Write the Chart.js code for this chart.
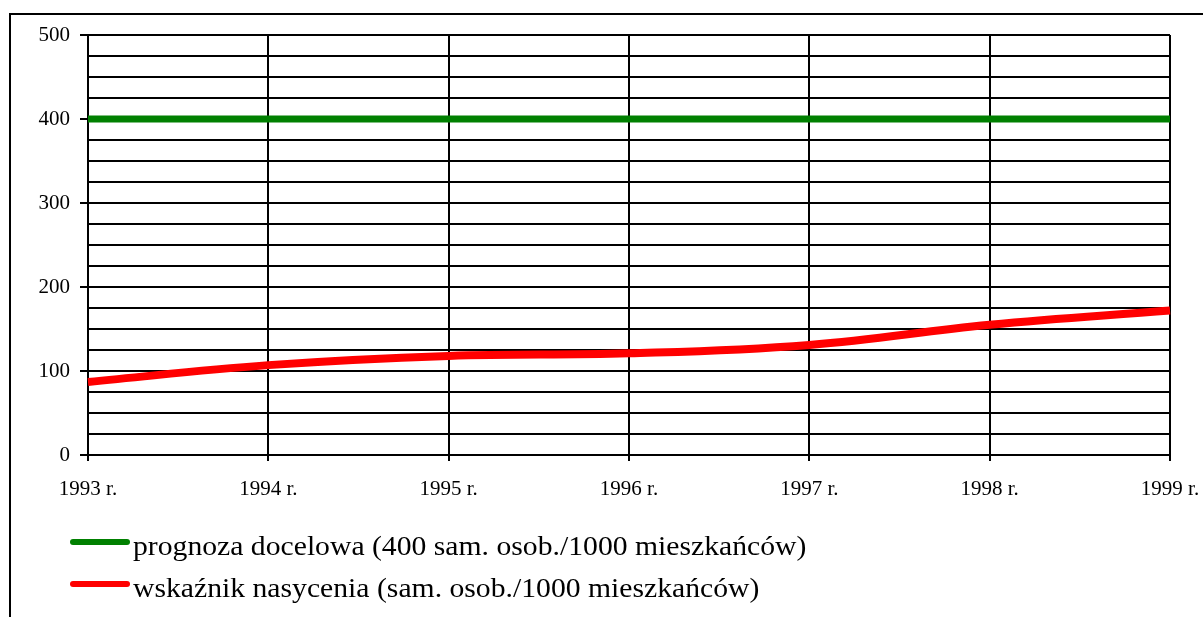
<!DOCTYPE html>
<html>
<head>
<meta charset="utf-8">
<script src="https://cdn.jsdelivr.net/npm/chart.js@4.4.1/dist/chart.umd.min.js"></script>
<style>
    html, body { margin: 0; padding: 0; background: #fff; width: 1203px; height: 617px; overflow: hidden; }
    #frame { position: absolute; left: 9px; top: 13px; width: 1300px; height: 700px;
             border-left: 2px solid #000; border-top: 2px solid #000; }
    #wrap { position: absolute; left: 0; top: 0; width: 1203px; height: 617px; }
    .legend { position: absolute; left: 70px; font-family: "Liberation Serif", "Times New Roman", serif;
              font-size: 28px; line-height: 28px; color: #000; white-space: nowrap; }
    .legend .sw { position: absolute; left: 0; width: 60px; height: 6px; border-radius: 3px; }
    .legend .tx { position: absolute; left: 63px; transform: scaleX(1.06); transform-origin: left center; }
</style>
</head>
<body>
<div id="frame"></div>
<div id="wrap"><canvas id="chart" width="1203" height="617"></canvas></div>
<div class="legend" style="top:542px"><div class="sw" style="background:#008000;top:-3px"></div><div class="tx" id="lg0" style="top:-10px"></div></div>
<div class="legend" style="top:584px"><div class="sw" style="background:#ff0000;top:-3px"></div><div class="tx" id="lg1" style="top:-10px"></div></div>
<script>
const years = ['1993 r.', '1994 r.', '1995 r.', '1996 r.', '1997 r.', '1998 r.', '1999 r.'];
const targetValues = [400, 400, 400, 400, 400, 400, 400];
const saturationValues = [87, 107, 118, 121, 131, 155, 172];
const seriesNames = [
    'prognoza docelowa (400 sam. osob./1000 mieszkańców)',
    'wskaźnik nasycenia (sam. osob./1000 mieszkańców)'
];
const yTicks = [0, 100, 200, 300, 400, 500];

document.getElementById('lg0').textContent = seriesNames[0];
document.getElementById('lg1').textContent = seriesNames[1];

const font = { family: '"Liberation Serif", "Times New Roman", serif', size: 21 };

const ctx = document.getElementById('chart').getContext('2d');
new Chart(ctx, {
    type: 'line',
    data: {
        labels: years,
        datasets: [{
            label: seriesNames[0],
            data: targetValues,
            borderColor: '#008000',
            borderWidth: 7,
            pointRadius: 0,
            tension: 0,
            fill: false
        }, {
            label: seriesNames[1],
            data: saturationValues,
            borderColor: '#ff0000',
            borderWidth: 8,
            pointRadius: 0,
            tension: 0.4,
            fill: false
        }]
    },
    options: {
        responsive: false,
        animation: false,
        devicePixelRatio: 1,
        layout: { padding: { left: 0, top: 35, right: 33, bottom: 0 } },
        plugins: { legend: { display: false }, tooltip: { enabled: false } },
        scales: {
            x: {
                type: 'category',
                offset: false,
                afterFit: s => { s.height = 162; s.paddingLeft = 0; s.paddingRight = 0; },
                grid: { color: '#000', lineWidth: 2, tickLength: 6, tickColor: '#000', offset: false },
                border: { color: '#000', width: 2 },
                ticks: { color: '#000', font: font, padding: 16, maxRotation: 0, autoSkip: false }
            },
            y: {
                min: 0,
                max: 500,
                afterFit: s => { s.width = 88; s.paddingTop = 0; s.paddingBottom = 0; },
                grid: {
                    color: '#000', lineWidth: 2, tickLength: 8,
                    tickColor: c => (yTicks.includes(c.tick.value) ? '#000' : 'rgba(0,0,0,0)')
                },
                border: { color: '#000', width: 2 },
                ticks: {
                    stepSize: 25,
                    maxTicksLimit: 30,
                    autoSkip: false,
                    color: '#000',
                    font: font,
                    padding: 10,
                    callback: v => (yTicks.includes(v) ? String(v) : '')
                }
            }
        }
    }
});
</script>
</body>
</html>
